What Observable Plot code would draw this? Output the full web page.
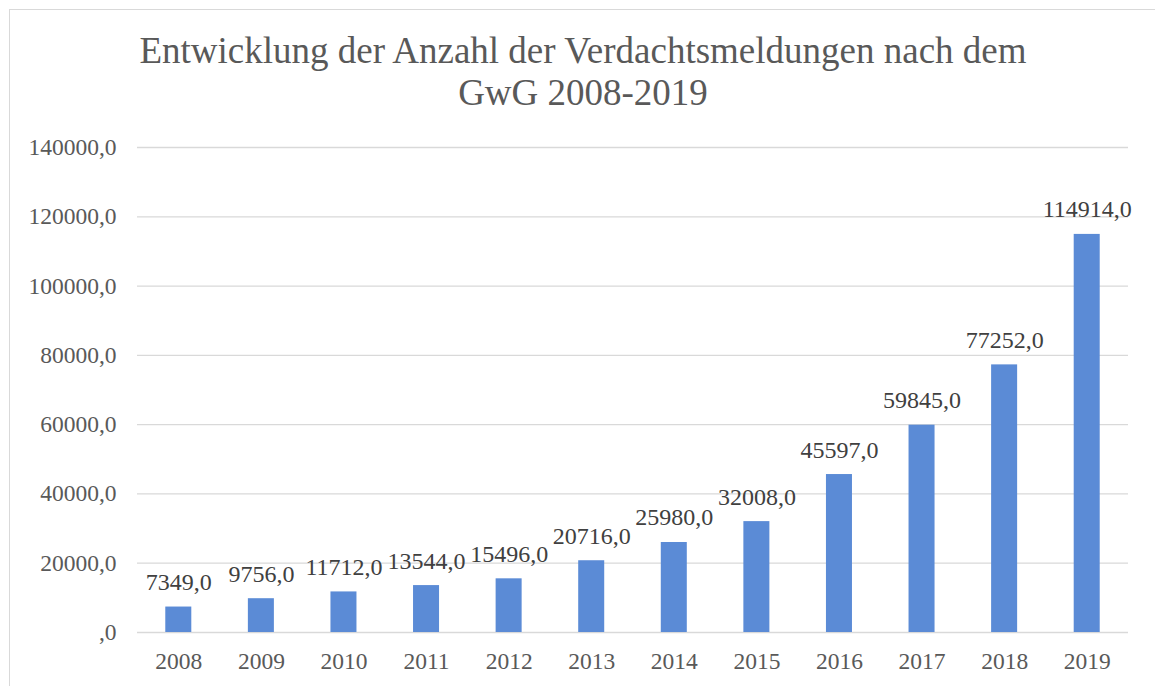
<!DOCTYPE html>
<html>
<head>
<meta charset="utf-8">
<script src="https://cdn.jsdelivr.net/npm/d3@7"></script>
<script src="https://cdn.jsdelivr.net/npm/@observablehq/plot@0.6"></script>
<style>
  html, body { margin: 0; padding: 0; background: #fff; overflow: hidden; width: 1155px; height: 686px; }
  #frame { position: absolute; left: 9px; top: 9px; width: 1170px; height: 720px; border: 1px solid #d9d9d9; box-sizing: border-box; }
  #title { position: absolute; left: 0; top: 30px; width: 1166px; text-align: center; font-family: "Liberation Serif", "Times New Roman", serif; font-size: 37px; line-height: 42px; color: #595959; }
  #chart { position: absolute; left: 0; top: 120px; }
</style>
</head>
<body>
<div id="frame"></div>
<div id="title">Entwicklung der Anzahl der Verdachtsmeldungen nach dem<br>GwG 2008-2019</div>
<div id="chart"></div>
<script>
const years = ["2008","2009","2010","2011","2012","2013","2014","2015","2016","2017","2018","2019"];
const values = [7349, 9756, 11712, 13544, 15496, 20716, 25980, 32008, 45597, 59845, 77252, 114914];
const yTicks = [0, 20000, 40000, 60000, 80000, 100000, 120000, 140000];

const data = years.map((y, i) => ({year: y, value: values[i]}));
const fmt = v => (v === 0 ? "" : String(v)) + ",0";

const chart = Plot.plot({
  width: 1155,
  height: 566,
  marginTop: 27,
  marginBottom: 54,
  marginLeft: 137,
  marginRight: 27,
  style: {fontFamily: "'Liberation Serif', 'Times New Roman', serif", background: "transparent", overflow: "visible"},
  x: {domain: years, paddingInner: 0.685, paddingOuter: 0.3425, round: false, label: null},
  y: {domain: [0, 140000], label: null},
  marks: [
    Plot.gridY(yTicks, {stroke: "#d9d9d9", strokeOpacity: 1, strokeWidth: 1.3}),
    Plot.barY(data, {x: "year", y: "value", fill: "#5b8bd6"}),
    Plot.text(data, {x: "year", y: "value", text: d => fmt(d.value), dy: -17, lineAnchor: "bottom", fontSize: 24, fill: "#404040"}),
    Plot.axisY(yTicks, {tickSize: 0, tickPadding: 21, tickFormat: fmt, fontSize: 23.5, color: "#595959", label: null}),
    Plot.axisX({tickSize: 0, tickPadding: 20, fontSize: 23.5, color: "#595959", label: null})
  ]
});
document.getElementById("chart").appendChild(chart);
</script>
</body>
</html>
